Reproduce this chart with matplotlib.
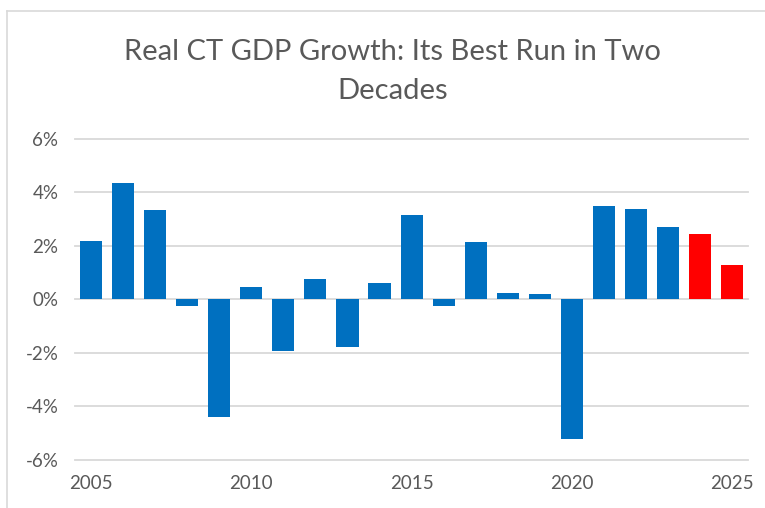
import matplotlib.pyplot as plt
from matplotlib.lines import Line2D
from matplotlib.ticker import FuncFormatter

# Real CT GDP growth, percent per year (2024-2025 are forecasts)
years = list(range(2005, 2026))
growth = [2.2, 4.37, 3.36, -0.26, -4.4, 0.45, -1.94, 0.78, -1.79, 0.63,
          3.17, -0.26, 2.13, 0.26, 0.22, -5.22, 3.5, 3.4, 2.72, 2.43, 1.27]
forecast_years = [2024, 2025]

blue = "#0070C0"
red = "#FF0000"
grey_text = "#595959"
grid_grey = "#D9D9D9"

plt.rcParams['font.family'] = ['Lato', 'DejaVu Sans']

fig = plt.figure(figsize=(7.65, 5.08), dpi=100)
ax = fig.add_axes([0.098, 0.0945, 0.88, 0.632])

colors = [red if y in forecast_years else blue for y in years]
ax.bar(years, growth, width=0.69, color=colors, zorder=3)

ax.set_xlim(2004.5, 2025.5)
ax.set_ylim(-6, 6)
ax.set_yticks([-6, -4, -2, 0, 2, 4, 6])
ax.yaxis.set_major_formatter(FuncFormatter(lambda v, p: f"{v:.0f}%"))
ax.set_xticks([2005, 2010, 2015, 2020, 2025])

ax.grid(axis='y', color=grid_grey, linewidth=1.3, zorder=0)
for line in ax.get_ygridlines():
    line.set_clip_on(False)
for s in ax.spines.values():
    s.set_visible(False)
ax.tick_params(axis='both', length=0, labelsize=13.5, colors=grey_text)
ax.tick_params(axis='y', pad=12)
ax.tick_params(axis='x', pad=11)

fig.text(0.513, 0.859, "Real CT GDP Growth: Its Best Run in Two\nDecades",
         ha='center', va='center', fontsize=21, color=grey_text,
         linespacing=1.65)

# chart border (top and left edges visible in the crop)
fig.add_artist(Line2D([7 / 765, 7 / 765], [0, 1 - 11 / 508], color=grid_grey, lw=1.2))
fig.add_artist(Line2D([7 / 765, 1], [1 - 11 / 508, 1 - 11 / 508], color=grid_grey, lw=1.2))

fig.savefig("out.png", dpi=100)
